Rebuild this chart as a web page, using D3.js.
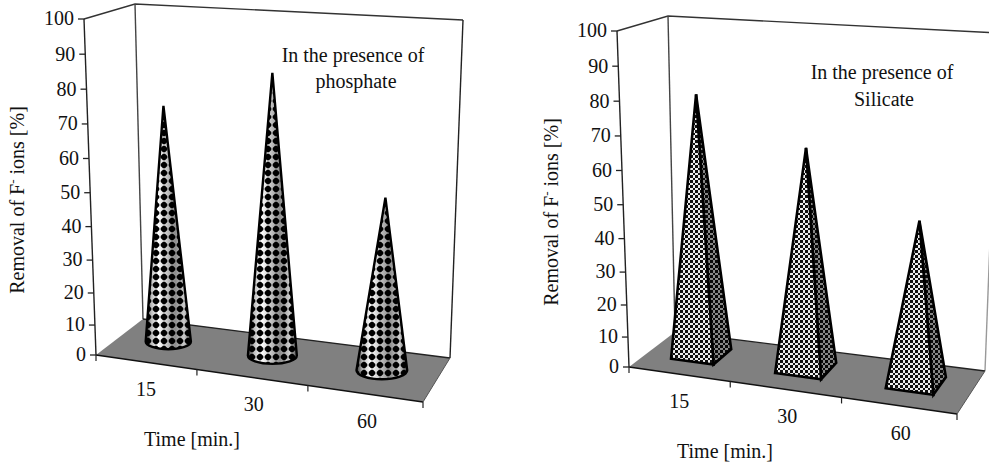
<!DOCTYPE html>
<html lang="en">
<head>
    <meta charset="UTF-8">
    <title>Removal of F- ions</title>
    <script src="https://d3js.org/d3.v7.min.js"></script>
    <style>
        body { margin: 0; background: #fff; }
        svg { display: block; }
        text { font-family: "Liberation Serif", serif; font-size: 20px; fill: #111; }
    </style>
</head>
<body>
    <div id="chart-container"></div>

    <script>
        const categories = ["15", "30", "60"];
        const phosphate = [73, 85, 52];
        const silicate = [80, 67, 49];
        const yTicks = [0, 10, 20, 30, 40, 50, 60, 70, 80, 90, 100];

        const svg = d3.select("#chart-container")
            .append("svg")
            .attr("width", 989)
            .attr("height", 468);

        const defs = svg.append("defs");

        // shading across the cone
        const grad = defs.append("linearGradient").attr("id", "coneShade");
        [[0, "#333"], [0.12, "#bbb"], [0.28, "#fff"], [0.65, "#8c8c8c"], [0.85, "#ccc"], [1, "#555"]].forEach(s => {
            grad.append("stop").attr("offset", s[0]).attr("stop-color", s[1]);
        });

        // black dots on the cones
        const dots = defs.append("pattern")
            .attr("id", "dots")
            .attr("patternUnits", "userSpaceOnUse")
            .attr("width", 8)
            .attr("height", 8)
            .attr("y", 1);
        dots.append("path")
            .attr("d", "M3,0.7L5,0.7L7.3,3L7.3,5L5,7.3L3,7.3L0.7,5L0.7,3Z")
            .attr("fill", "#000");

        // fine checks on the pyramids
        function checks(id, bg, fg) {
            const p = defs.append("pattern")
                .attr("id", id)
                .attr("patternUnits", "userSpaceOnUse")
                .attr("width", 5)
                .attr("height", 5);
            p.append("rect").attr("width", 5).attr("height", 5).attr("fill", bg);
            p.append("rect").attr("width", 3).attr("height", 3).attr("fill", fg);
            p.append("rect").attr("x", 3).attr("y", 3).attr("width", 2).attr("height", 2).attr("fill", fg);
        }
        checks("checkLight", "#eee", "#111");
        checks("checkDark", "#888", "#0a0a0a");

        const lerp = (a, b, t) => [a[0] + (b[0] - a[0]) * t, a[1] + (b[1] - a[1]) * t];
        const quad = (c, u, v) => lerp(lerp(c.fl, c.fr, u), lerp(c.bl, c.br, u), v);

        // x positions are squeezed a little by the perspective
        const warp = d3.scalePow().exponent(1.07).domain([0, 1]).range([0, 1]);
        const xBand = d3.scaleBand().domain(categories).range([0, 1]);
        const lift = d3.scalePow().exponent(1.05).domain([0, 100]).range([0, 1]);
        const depth = 0.55;

        function drawPanel(cfg, values, drawMark) {
            const g = svg.append("g");
            const floor = cfg.floor, top = cfg.top;

            const P = (u, v) => quad(floor, warp(u), v);
            const T = (u, v, value) => lerp(P(u, v), quad(top, warp(u), v), lift(value));

            // back walls
            g.append("path")
                .attr("d", d3.line()([top.fl, top.bl, top.br]))
                .attr("fill", "none")
                .attr("stroke", "#333")
                .attr("stroke-width", 1.4);
            g.append("path")
                .attr("d", d3.line()([top.br, floor.br]))
                .attr("fill", "none")
                .attr("stroke", cfg.rightWall)
                .attr("stroke-width", 1.4);
            g.append("path")
                .attr("d", d3.line()([top.bl, floor.bl]))
                .attr("fill", "none")
                .attr("stroke", "#444")
                .attr("stroke-width", 1.4);

            // floor
            g.append("path")
                .attr("d", d3.line()([floor.fl, floor.fr, floor.br, floor.bl]) + "Z")
                .attr("fill", "#808080");
            g.append("path")
                .attr("d", d3.line()([floor.fl, floor.fr]))
                .attr("stroke", "#111")
                .attr("stroke-width", 1.5);
            g.append("path")
                .attr("d", d3.line()([floor.bl, floor.br]))
                .attr("stroke", "#222")
                .attr("stroke-width", 1.3);
            g.append("path")
                .attr("d", d3.line()([floor.fr, floor.br]))
                .attr("stroke", "#555")
                .attr("stroke-width", 1);

            // y axis runs along the slanted front edge
            g.append("path")
                .attr("d", d3.line()([top.fl, floor.fl]))
                .attr("stroke", "#222")
                .attr("stroke-width", 1.4);

            const y = d3.scalePow().exponent(1.05).domain([0, 100]).range([floor.fl[1], top.fl[1]]);
            const xAt = d3.scaleLinear().domain([floor.fl[1], top.fl[1]]).range([floor.fl[0], top.fl[0]]);

            const yAxis = g.append("g")
                .attr("class", "axis axis-y")
                .call(d3.axisLeft(y).tickValues(yTicks).tickFormat(d3.format("d")).tickSize(6).tickPadding(4));
            yAxis.select(".domain").remove();
            yAxis.attr("font-family", null).attr("font-size", null);
            yAxis.selectAll(".tick").attr("transform", d => `translate(${xAt(y(d))},${y(d)})`);
            yAxis.selectAll(".tick line").attr("stroke", "#222").attr("stroke-width", 1.3);

            // ticks under the front edge
            [0, 1 / 3, 2 / 3, 1].forEach(u => {
                const p = P(u, 0);
                g.append("line")
                    .attr("x1", p[0]).attr("y1", p[1])
                    .attr("x2", p[0]).attr("y2", p[1] + 6)
                    .attr("stroke", "#222")
                    .attr("stroke-width", 1.2);
            });

            categories.forEach((c, i) => {
                const u = xBand(c) + xBand.bandwidth() / 2;
                const p = P(u, 0);
                g.append("text")
                    .attr("x", p[0] + 2)
                    .attr("y", p[1] + 34)
                    .attr("text-anchor", "middle")
                    .text(c);
                drawMark(g, u, values[i], P, T);
            });

            g.append("text")
                .attr("x", cfg.xTitle[0])
                .attr("y", cfg.xTitle[1])
                .attr("text-anchor", "middle")
                .text("Time [min.]");

            const yTitle = g.append("text")
                .attr("transform", `translate(${cfg.yTitle[0]},${cfg.yTitle[1]}) rotate(-90)`)
                .attr("text-anchor", "middle");
            yTitle.append("tspan").text("Removal of F");
            yTitle.append("tspan").attr("dy", -7).style("font-size", "13px").text("-");
            yTitle.append("tspan").attr("dy", 7).text(" ions [%]");

            cfg.note.forEach((line, i) => {
                g.append("text")
                    .attr("x", cfg.notePos[i][0])
                    .attr("y", cfg.notePos[i][1])
                    .attr("text-anchor", "middle")
                    .text(line);
            });
        }

        function drawCone(g, u, value, P, T) {
            const du = 0.076, dv = 0.21;
            const c = P(u, depth);
            const tip = T(u, depth, value);
            const rx = (P(u + du, depth)[0] - P(u - du, depth)[0]) / 2;
            const ry = (P(u, depth - dv)[1] - P(u, depth + dv)[1]) / 2;
            const d = `M${tip}L${c[0] + rx},${c[1]}A${rx},${ry} 0 0 1 ${c[0] - rx},${c[1]}Z`;
            g.append("path").attr("d", d).attr("fill", "url(#coneShade)");
            g.append("path").attr("d", d)
                .attr("fill", "url(#dots)")
                .attr("stroke", "#000")
                .attr("stroke-width", 2.4);
        }

        function drawPyramid(g, u, value, P, T) {
            const du = 0.07, dv = 0.21;
            const tip = T(u, depth, value);
            const a = P(u - du, depth - dv);
            const b = P(u + du, depth - dv);
            const e = P(u + du, depth + dv);
            g.append("path")
                .attr("d", d3.line()([b, e, tip]) + "Z")
                .attr("fill", "url(#checkDark)")
                .attr("stroke", "#000")
                .attr("stroke-width", 2.6);
            g.append("path")
                .attr("d", d3.line()([a, b, tip]) + "Z")
                .attr("fill", "url(#checkLight)")
                .attr("stroke", "#000")
                .attr("stroke-width", 2.6);
        }

        drawPanel({
            floor: {fl: [96, 355], fr: [423, 402], bl: [143, 319], br: [450, 358]},
            top: {fl: [84, 19], fr: [431, 44], bl: [135, 4], br: [463, 20]},
            rightWall: "#222",
            xTitle: [192, 446],
            yTitle: [24, 200],
            note: ["In the presence of", "phosphate"],
            notePos: [[353, 62], [356, 88]]
        }, phosphate, drawCone);

        drawPanel({
            floor: {fl: [629, 367], fr: [957, 414], bl: [675, 332], br: [985, 371]},
            top: {fl: [617, 31], fr: [965, 57], bl: [668, 16], br: [998, 33]},
            rightWall: "#999",
            xTitle: [725, 458],
            yTitle: [558, 212],
            note: ["In the presence of", "Silicate"],
            notePos: [[882, 79], [884, 106]]
        }, silicate, drawPyramid);
    </script>
</body>
</html>
